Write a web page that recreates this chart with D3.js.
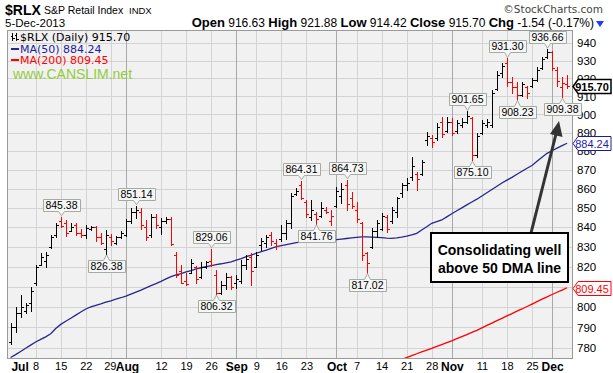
<!DOCTYPE html>
<html><head><meta charset="utf-8">
<script src="https://cdn.jsdelivr.net/npm/d3@7"></script>
<style>body{margin:0;background:#fff}svg{display:block}</style>
</head><body><svg id="c" width="613" height="373"></svg>
<script>
const dates = ["2013-06-28","2013-07-01","2013-07-02","2013-07-03","2013-07-05","2013-07-08","2013-07-09","2013-07-10","2013-07-11","2013-07-12",
"2013-07-15","2013-07-16","2013-07-17","2013-07-18","2013-07-19","2013-07-22","2013-07-23","2013-07-24","2013-07-25","2013-07-26",
"2013-07-29","2013-07-30","2013-07-31","2013-08-01","2013-08-02","2013-08-05","2013-08-06","2013-08-07","2013-08-08","2013-08-09",
"2013-08-12","2013-08-13","2013-08-14","2013-08-15","2013-08-16","2013-08-19","2013-08-20","2013-08-21","2013-08-22","2013-08-23",
"2013-08-26","2013-08-27","2013-08-28","2013-08-29","2013-08-30","2013-09-03","2013-09-04","2013-09-05","2013-09-06","2013-09-09",
"2013-09-10","2013-09-11","2013-09-12","2013-09-13","2013-09-16","2013-09-17","2013-09-18","2013-09-19","2013-09-20","2013-09-23",
"2013-09-24","2013-09-25","2013-09-26","2013-09-27","2013-09-30","2013-10-01","2013-10-02","2013-10-03","2013-10-04","2013-10-07",
"2013-10-08","2013-10-09","2013-10-10","2013-10-11","2013-10-14","2013-10-15","2013-10-16","2013-10-17","2013-10-18","2013-10-21",
"2013-10-22","2013-10-23","2013-10-24","2013-10-25","2013-10-28","2013-10-29","2013-10-30","2013-10-31","2013-11-01","2013-11-04",
"2013-11-05","2013-11-06","2013-11-07","2013-11-08","2013-11-11","2013-11-12","2013-11-13","2013-11-14","2013-11-15","2013-11-18",
"2013-11-19","2013-11-20","2013-11-21","2013-11-22","2013-11-25","2013-11-26","2013-11-27","2013-11-29","2013-12-02","2013-12-03",
"2013-12-04","2013-12-05"];

const opens = [783,790,797,798,802,812,821,823,830,836,
843,842,838,841,837,836,839,840,835,829,
835,832,835,836,843,848,848,840,836,845,
840,843,844,826,818,813,817,820,815,820,
823,816,807,811,815,812,813,821,825,820,
831,832,836,832,834,837,842,857,862,853,
845,847,846,849,843,851,856,862,855,849,
842,827,830,838,839,845,843,848,858,862,
866,868,868,886,887,887,896,891,896,891,
894,896,898,878,890,894,894,914,923,929,
918,915,911,915,916,919,926,932,935,925,
915,916.63];
const highs = [792,800,806,802,810,821,826.6,827.5,836,842,
845.38,843.7,842,842,839,841,840.5,840.5,837,838.5,
836.6,835.5,838,844,850,851.14,849.8,843.7,847,847,
844.5,845,845,827.5,820.6,816.7,824,820.5,822.4,823,
829.06,818.4,812.6,817,815.5,816,823.3,825.8,827,827.5,
834.5,836,837.7,834,841,843.7,858,860.5,864.31,854,
854,848,853,850.6,848.9,861,863,864.73,858.4,853.2,
842.8,827.5,839.6,843.7,847.3,846.3,850.6,855.8,863,865.5,
877,869,875.2,890.5,888.7,895.1,898.7,898.7,898,896.9,
897.8,901.65,898.7,890,897,897.5,913.6,924,928.7,931.30,
921,918,918,916,920,926.6,932.4,936.66,935.7,926.6,
921,921.88];
const lows = [782,788,795,797,798,810.6,820.7,819.8,829.3,835,
840,835.5,838,836,835,834.5,838.5,833,831.5,826.38,
831,831.5,834.5,835.5,842,844.5,839,833.5,835,839.6,
836.6,842,831,815,811.6,811,816.7,811.6,814.5,819.5,
820.5,806.32,806.5,809,808.6,809.4,812,818.6,811,819.8,
828.3,830,831,829,832.7,834,839.5,856.6,854.5,845.4,
843.7,841.76,845.4,847.3,841.1,850.6,852.5,848.9,849.8,842.8,
823.3,817.02,829.4,835.2,838.6,837.7,842,845.4,855.8,859.3,
864.6,859.3,867.2,883.3,882.4,886,887.8,890.5,888.7,889.7,
893,895.1,875.10,877,889,893,893,913.6,921,915.7,
912,908.23,910,909,915,918.5,925.5,931.5,924.5,916,
909.38,914.42];
const closes = [790,797,800,801,808,820,825,826,835,841,
840.5,837,840,837,836,839.5,840,835,832,836,
833,835,837,843,848,849,841,835,845,841,
843,844,831.5,816,812,811.5,822,814,820,822.5,
821,807,811,815,810,814,821,824,818,826,
833,835,833,830.5,837,842,856,859,855,847,
849,844,850,848,846,859,860,852,851,844,
826,822,838,842,846,839,849,855,862,863,
872,865,874,888,885,893,889,896,890,895,
896,899,878,888,895,896,912,922,927,918,
915,911,917,912,919,925,931,935,926,918.5,
917.24,915.70];

const ma50 = [775.6,777,778.5,780,781.5,783,784.3,785.5,787,789.5,
791.5,793,794.5,796,797.5,799,800,800.8,801.5,802.3,
803,803.8,804.5,805.3,806.3,807.3,808.3,809.4,810.5,811.5,
812.6,813.8,815,815.8,816.5,817.3,818,818.8,819.4,820,
820.5,821,821.4,821.9,822.4,823.2,824,825,825.8,826.7,
827.5,828.3,829.2,830,830.6,831.1,831.6,832.1,832.5,832.7,
832.8,832.9,833.1,833.3,833.4,833.6,833.9,834.2,834.5,834.8,
835,835,834.9,834.8,834.6,834.4,834.3,834.5,834.9,835.4,
836,836.8,838.5,840.2,842,842.9,843.7,845.3,846.9,848.5,
850,851.5,853,854.5,856.2,857.9,859.6,861.3,863,864.5,
866,867.6,869.2,870.8,872.3,874.5,876.7,878.8,880.2,881.6,
883,884.24];
const ma200Start = 78;
const ma200 = [774.7,775.6,776.5,777.4,778.3,779.1,780,780.9,781.8,782.7,
783.6,784.6,785.6,786.6,787.6,788.6,789.8,791,792.1,793.3,
794.4,795.6,796.7,797.9,799,800.2,801.4,802.6,803.8,804.9,
806.1,807.2,808.3,809.45];

const yTicks = [780,790,800,820,830,840,850,860,870,880,890,900,910,920,930,940];
const gridTicks = [780,790,800,810,820,830,840,850,860,870,880,890,900,910,920,930,940];
const monthTicks = [["2013-07-01","Jul"],["2013-08-01","Aug"],["2013-09-03","Sep"],["2013-10-01","Oct"],["2013-11-01","Nov"],["2013-12-02","Dec"]];
const weekTicks = [["2013-07-08","8"],["2013-07-15","15"],["2013-07-22","22"],["2013-07-29","29"],["2013-08-12","12"],["2013-08-19","19"],["2013-08-26","26"],["2013-09-09","9"],["2013-09-16","16"],["2013-09-23","23"],["2013-10-07","7"],["2013-10-14","14"],["2013-10-21","21"],["2013-10-28","28"],["2013-11-11","11"],["2013-11-18","18"],["2013-11-25","25"]];
const highNotes = ["2013-07-15","2013-08-05","2013-08-26","2013-09-20","2013-10-03","2013-11-06","2013-11-18","2013-11-29"];
const lowNotes = ["2013-07-26","2013-08-27","2013-09-25","2013-10-09","2013-11-07","2013-11-20","2013-12-04"];

const P = {l:7, r:573, t:30, b:359};
const AR = "Arial, 'Liberation Sans', sans-serif";
const VD = "'DejaVu Sans', Verdana, sans-serif";
const svg = d3.select("#c");
const x = d3.scalePoint().domain(dates).range([10.6, 567.1]);
const y = d3.scaleLog().domain([780, 940]).range([348.3, 43.3]);
const px = d => Math.round(x(d)) + 0.5;
const py = v => Math.round(y(v)) + 0.5;

svg.append("defs").append("clipPath").attr("id","clip")
  .append("rect").attr("x",P.l).attr("y",P.t).attr("width",P.r-P.l).attr("height",P.b-P.t);

svg.append("rect").attr("x",P.l).attr("y",P.t).attr("width",P.r-P.l).attr("height",P.b-P.t).attr("fill","#f1f1f1");

const grid = svg.append("g").attr("shape-rendering","crispEdges");
grid.selectAll(".hg").data(gridTicks).join("line")
  .attr("x1",P.l).attr("x2",P.r).attr("y1",d=>py(d)).attr("y2",d=>py(d)).attr("stroke","#d3d3d3");
grid.selectAll(".wg").data(weekTicks).join("line")
  .attr("x1",d=>px(d[0])).attr("x2",d=>px(d[0])).attr("y1",P.t).attr("y2",P.b).attr("stroke","#d3d3d3");
grid.selectAll(".mg").data(monthTicks.slice(1)).join("line")
  .attr("x1",d=>px(d[0])).attr("x2",d=>px(d[0])).attr("y1",P.t).attr("y2",P.b).attr("stroke","#a9a9a9");

const plot = svg.append("g").attr("clip-path","url(#clip)");

// moving averages
const line = d3.line().x(d=>x(d[0])).y(d=>y(d[1]));
plot.append("path").datum(dates.map((d,i)=>[d,ma50[i]])).attr("d",line)
  .attr("fill","none").attr("stroke","#26268f").attr("stroke-width",1.3);
plot.append("path").datum(ma200.map((v,i)=>[dates[ma200Start+i],v])).attr("d",line)
  .attr("fill","none").attr("stroke","#ff0000").attr("stroke-width",1.3);

// OHLC bars
const bars = plot.append("g").attr("shape-rendering","crispEdges");
dates.forEach((d,i)=>{
  const c = (i===0 || closes[i] >= closes[i-1]) ? "#000" : "#ff0000";
  const X = px(d);
  bars.append("path")
    .attr("d",`M${X},${Math.round(y(highs[i]))}V${Math.round(y(lows[i]))+1}M${X-2.5},${py(opens[i])}H${X}M${X},${py(closes[i])}H${X+2.5}`)
    .attr("stroke",c).attr("stroke-width",1).attr("fill","none");
});

// plot border
svg.append("rect").attr("x",P.l+0.5).attr("y",P.t+0.5).attr("width",P.r-P.l-1).attr("height",P.b-P.t-1)
  .attr("fill","none").attr("stroke","#9a9a9a").attr("shape-rendering","crispEdges");

// axes
const ya = svg.append("g").attr("transform",`translate(${P.r},0)`)
  .call(d3.axisRight(y).tickValues(yTicks).tickFormat(d3.format("d")).tickSize(0).tickPadding(4));
ya.select(".domain").remove();
ya.selectAll("text").attr("font-family",AR).attr("font-size",11.5).attr("fill","#000");

const allTicks = monthTicks.concat(weekTicks);
const labelOf = new Map(allTicks.map(d=>[d[0],d[1]]));
const monthSet = new Set(monthTicks.map(d=>d[0]));
const xa = svg.append("g").attr("transform",`translate(0,${P.b})`)
  .call(d3.axisBottom(x).tickValues(allTicks.map(d=>d[0])).tickFormat(d=>labelOf.get(d)).tickSize(0).tickPadding(3));
xa.select(".domain").remove();
xa.selectAll("text").attr("font-family",AR).attr("fill","#000")
  .attr("font-size",d=>monthSet.has(d)?12:11)
  .attr("font-weight",d=>monthSet.has(d)?"bold":"normal")
  .attr("dx",d=>d==="2013-07-01"?4:(d==="2013-07-29"?-1:(d==="2013-08-01"?1:0)));

// header
svg.append("text").attr("x",5).attr("y",15).attr("font-family",AR).attr("font-size",14).attr("font-weight","bold").text("$RLX");
svg.append("text").attr("x",44).attr("y",14).attr("font-family",AR).attr("font-size",10.5).text("S&P Retail Index");
svg.append("text").attr("x",129).attr("y",14).attr("font-family",AR).attr("font-size",9.5).text("INDX");
svg.append("text").attr("x",5).attr("y",27).attr("font-family",AR).attr("font-size",11.5).text("5-Dec-2013");
svg.append("text").attr("x",603).attr("y",13).attr("text-anchor","end").attr("font-family",VD).attr("font-size",10.5).attr("fill","#444").text("©StockCharts.com");
const hdr = svg.append("text").attr("x",594).attr("y",27).attr("text-anchor","end").attr("font-family",AR).attr("font-size",12);
[["Open",1],[" 916.63 ",0],["High",1],[" 921.88 ",0],["Low",1],[" 914.42 ",0],["Close",1],[" 915.70 ",0],["Chg",1],[" -1.54 (-0.17%)",0]]
  .forEach(([t,b])=>hdr.append("tspan").attr("font-weight",b?"bold":"normal").attr("font-size",b?13:12).text(t));
svg.append("path").attr("d","M596,21H604L600,27Z").attr("fill","#1a3cff");

// legend
const lg = svg.append("g").attr("font-family",VD).attr("font-size",11);
lg.append("path").attr("d","M12.5,33V41M12.5,36H10.5M12.5,38H14.5M16.5,33V41M16.5,35H14.5M16.5,39H18.5").attr("stroke","#000").attr("fill","none").attr("shape-rendering","crispEdges");
lg.append("text").attr("x",20).attr("y",41).text("$RLX (Daily) 915.70");
lg.append("line").attr("x1",11).attr("x2",19).attr("y1",49).attr("y2",49).attr("stroke","#26268f").attr("stroke-width",2);
lg.append("text").attr("x",20).attr("y",53).attr("fill","#1c1ca0").text("MA(50) 884.24");
lg.append("line").attr("x1",11).attr("x2",19).attr("y1",60).attr("y2",60).attr("stroke","#ff0000").attr("stroke-width",2);
lg.append("text").attr("x",20).attr("y",64).attr("fill","#ff0000").text("MA(200) 809.45");
svg.append("text").attr("x",13).attr("y",79).attr("font-family",AR).attr("font-size",14).attr("fill","#92cc3c").text("www.CANSLIM.net");

// high / low notes
function note(date, val, isHigh){
  const cx = px(date);
  const yy = y(val);
  const g = svg.append("g");
  const t = g.append("text").text(val.toFixed(2)).attr("font-family",AR).attr("font-size",10.5).attr("text-anchor","middle").attr("x",cx);
  const w = t.node().getComputedTextLength() + 5;
  const bh = 12;
  const l = Math.round(cx - w/2) + 0.5, r = l + Math.round(w);
  let d, top;
  if (isHigh) {
    top = Math.round(yy - 6 - bh) + 0.5;
    d = `M${l},${top}H${r}V${top+bh}H${cx+3}L${cx},${yy-1}L${cx-3},${top+bh}H${l}Z`;
  } else {
    top = Math.round(yy + 6) + 0.5;
    d = `M${l},${top}H${cx-3}L${cx},${yy+1}L${cx+3},${top}H${r}V${top+bh}H${l}Z`;
  }
  g.insert("path","text").attr("d",d).attr("fill","#f5f6f5").attr("stroke","#a2aca2");
  t.attr("y", top + bh - 2.5);
}
highNotes.forEach(d=>note(d, highs[dates.indexOf(d)], true));
lowNotes.forEach(d=>note(d, lows[dates.indexOf(d)], false));

// right value tags
function tag(v, color, bold){
  const yy = Math.round(y(v)) + 0.5;
  svg.append("path").attr("d",`M${P.r},${yy}L${P.r+5},${yy-7}H611V${yy+7}H${P.r+5}Z`)
    .attr("fill","#fff").attr("stroke",color).attr("stroke-width",bold?1.5:1);
  svg.append("text").attr("x",592).attr("y",yy+4).attr("text-anchor","middle").attr("font-family",AR).attr("font-size",11)
    .attr("font-weight",bold?"bold":"normal").attr("fill",color).text(v.toFixed(2));
}
tag(closes[closes.length-1], "#000", true);
tag(ma50[ma50.length-1], "#1c1ca0", false);
tag(ma200[ma200.length-1], "#ff0000", false);

// callout
svg.append("line").attr("x1",531).attr("y1",233).attr("x2",556).attr("y2",134)
  .attr("stroke","#333").attr("stroke-width",3);
svg.append("path").attr("d","M559,121L562.5,137L550,134Z").attr("fill","#333");
svg.append("rect").attr("x",431).attr("y",233).attr("width",137).attr("height",49)
  .attr("fill","#fff").attr("stroke","#000").attr("stroke-width",2);
const ct = svg.append("text").attr("font-family",AR).attr("font-size",14).attr("font-weight","bold").attr("text-anchor","middle");
ct.append("tspan").attr("x",499.5).attr("y",255).text("Consolidating well");
ct.append("tspan").attr("x",499.5).attr("y",273).text("above 50 DMA line");
</script></body></html>
